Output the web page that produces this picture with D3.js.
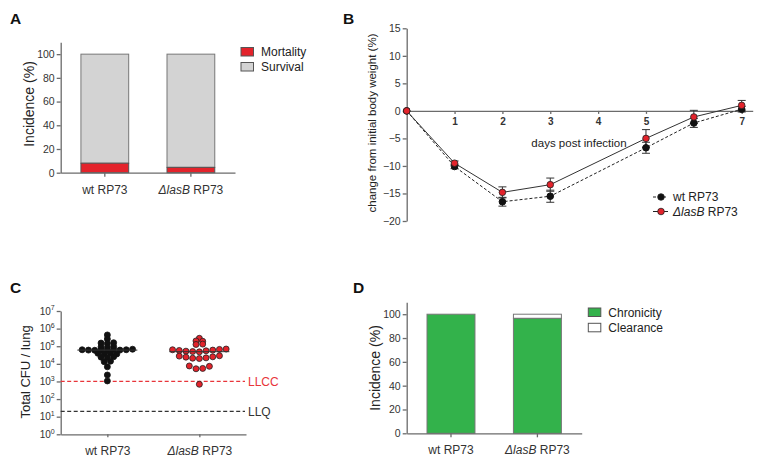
<!DOCTYPE html>
<html><head><meta charset="utf-8">
<script src="https://cdn.jsdelivr.net/npm/d3@7"></script>
<style>body{margin:0;background:#fff} svg{font-family:"Liberation Sans",Arial,sans-serif;display:block}</style>
</head><body><svg id="c" width="767" height="469"></svg>
<script>
// ---------- data ----------
const groups = ["wt RP73", "ΔlasB RP73"];
// Panel A
const mortality = [8, 4.5];
const survival = [92, 95.5];
const incTicks = [0, 20, 40, 60, 80, 100];
// Panel B
const days = [0, 1, 2, 3, 5, 6, 7];
const dayTicks = [1, 2, 3, 4, 5, 7];
const wtWeight = [0, -10.1, -16.5, -15.5, -6.7, -2.2, 0.3];
const wtErr = [0, 0.4, 0.8, 1.1, 1.0, 0.8, 0.5];
const lasWeight = [0, -9.5, -14.8, -13.4, -5.0, -1.1, 1.0];
const lasErr = [0, 0.4, 1.0, 1.2, 1.6, 1.2, 0.9];
const weightTicks = [15, 10, 5, 0, -5, -10, -15, -20];
// Panel C (total CFU / lung, one value per mouse)
const wtCFU = [437000, 257000,
  151000, 141000, 158000,
  91200, 83200, 95500,
  63100, 60300, 58900, 61700, 57500, 64600, 60300, 63100, 67600,
  39800, 38000, 41700, 36300,
  24000, 22900, 25100,
  13200, 14100,
  6760, 2340, 1070];
const lasCFU = [282000,
  200000, 191000,
  126000, 132000,
  63100, 57500, 52500, 50100, 47900, 55000, 60300, 66100, 69200,
  27500, 24000, 20900, 20000, 21900, 25100, 28800,
  7590, 5250, 5500, 7240,
  692];
const LLCC = 1000, LLQ = 20;
const cfuTicks = [1, 10, 100, 1e3, 1e4, 1e5, 1e6, 1e7];
// Panel D
const chronicity = [100, 96.5];
const clearance = [0, 3.5];

// ---------- helpers ----------
const svg = d3.select("#c");
const AX = "#6b6b6b", TXT = "#333";
const RED = "#e3232b", GRAY = "#d3d3d3", GREEN = "#33b24b";

function styleAxis(g, fs) {
  g.selectAll("path,line").attr("stroke", AX).attr("stroke-width", 1.3);
  g.selectAll("text").attr("fill", TXT).attr("font-size", fs || 10.5)
    .attr("font-family", '"Liberation Sans",Arial,sans-serif');
}
function labelWithItalic(sel, d) {
  if (d.startsWith("Δ")) {
    const p = d.split(" ");
    sel.append("tspan").attr("font-style", "italic").text(p[0]);
    sel.append("tspan").text(" " + p.slice(1).join(" "));
  } else sel.text(d);
}
function groupLabels(g) {
  g.selectAll(".tick text").each(function (d) {
    const t = d3.select(this).text("").attr("font-size", 12);
    labelWithItalic(t, d);
  });
}
function letter(t, x, y) {
  svg.append("text").attr("x", x).attr("y", y).attr("font-size", 15.5)
    .attr("font-weight", "bold").attr("fill", "#111").text(t);
}
function ylabel(t, x, y, fs) {
  svg.append("text").attr("transform", `translate(${x},${y}) rotate(-90)`)
    .attr("text-anchor", "middle").attr("font-size", fs).attr("fill", "#222").text(t);
}
function legendItem(x, y, fill, label) {
  svg.append("rect").attr("x", x).attr("y", y).attr("width", 12.5).attr("height", 8.5)
    .attr("fill", fill).attr("stroke", "#555").attr("stroke-width", 1);
  svg.append("text").attr("x", x + 20).attr("y", y + 8.5).attr("font-size", 12)
    .attr("fill", "#222").text(label);
}

// ---------- Panel A ----------
letter("A", 10, 24);
const yA = d3.scaleLinear().domain([0, 110]).range([172.7, 42.3]);
const xA = d3.scaleBand().domain(groups).range([60.7, 235]).paddingInner(0.445).paddingOuter(0.235);
groups.forEach((g, i) => {
  svg.append("rect").attr("x", xA(g)).attr("width", xA.bandwidth())
    .attr("y", yA(mortality[i] + survival[i])).attr("height", yA(mortality[i]) - yA(mortality[i] + survival[i]))
    .attr("fill", GRAY).attr("stroke", "#777").attr("stroke-width", 1);
  svg.append("rect").attr("x", xA(g)).attr("width", xA.bandwidth())
    .attr("y", yA(mortality[i])).attr("height", yA(0) - yA(mortality[i]))
    .attr("fill", RED).attr("stroke", "#555").attr("stroke-width", 1);
});
svg.append("g").attr("transform", "translate(60.7,0)")
  .call(d3.axisLeft(yA).tickValues(incTicks).tickSize(4).tickSizeOuter(0).tickPadding(2))
  .call(styleAxis);
svg.append("g").attr("transform", "translate(0,172.7)")
  .call(d3.axisBottom(xA).tickSize(4).tickSizeOuter(0).tickPadding(9))
  .call(styleAxis).call(groupLabels);
ylabel("Incidence (%)", 34, 104, 14);
legendItem(241, 47.5, RED, "Mortality");
legendItem(241, 62.5, GRAY, "Survival");

// ---------- Panel B ----------
letter("B", 343, 24);
const xB = d3.scaleLinear().domain([0, 7.23]).range([406.7, 752.7]);
const yB = d3.scaleLinear().domain([-20, 15]).range([221, 28.3]);
svg.append("g").attr("transform", "translate(406.7,0)")
  .call(d3.axisLeft(yB).tickValues(weightTicks).tickSize(4).tickSizeOuter(0).tickPadding(2))
  .call(styleAxis);
const gxB = svg.append("g").attr("transform", `translate(0,${yB(0)})`)
  .call(d3.axisBottom(xB).tickValues(dayTicks).tickSize(3).tickSizeOuter(0).tickPadding(4))
  .call(styleAxis);
gxB.selectAll("text").attr("font-weight", "bold").attr("font-size", 10);
svg.append("text").attr("x", 579).attr("y", 147).attr("text-anchor", "middle")
  .attr("font-size", 11.5).attr("fill", "#222").text("days post infection");
ylabel("change from initial body weight (%)", 376, 123, 11.5);

const lineB = d3.line().x((d, i) => xB(days[i])).y(d => yB(d));
svg.append("path").datum(wtWeight).attr("d", lineB).attr("fill", "none")
  .attr("stroke", "#222").attr("stroke-width", 1).attr("stroke-dasharray", "3,2");
svg.append("path").datum(lasWeight).attr("d", lineB).attr("fill", "none")
  .attr("stroke", "#333").attr("stroke-width", 1);
function errBars(vals, errs) {
  vals.forEach((v, i) => {
    if (!errs[i]) return;
    const x = xB(days[i]);
    const g = svg.append("g").attr("stroke", "#333").attr("stroke-width", 1);
    g.append("line").attr("x1", x).attr("x2", x).attr("y1", yB(v - errs[i])).attr("y2", yB(v + errs[i]));
    [v - errs[i], v + errs[i]].forEach(e =>
      g.append("line").attr("x1", x - 4).attr("x2", x + 4).attr("y1", yB(e)).attr("y2", yB(e)));
  });
}
errBars(wtWeight, wtErr);
errBars(lasWeight, lasErr);
svg.selectAll(".wtpt").data(wtWeight).join("circle").attr("class", "wtpt")
  .attr("cx", (d, i) => xB(days[i])).attr("cy", d => yB(d)).attr("r", 3.3)
  .attr("fill", "#111").attr("stroke", "#111");
svg.selectAll(".laspt").data(lasWeight).join("circle").attr("class", "laspt")
  .attr("cx", (d, i) => xB(days[i])).attr("cy", d => yB(d)).attr("r", 3.3)
  .attr("fill", RED).attr("stroke", "#222").attr("stroke-width", 0.8);
[[groups[0], "#111", "3,2", 197], [groups[1], RED, null, 211.5]].forEach(([lab, col, dash, y]) => {
  const l = svg.append("line").attr("x1", 653).attr("x2", 668).attr("y1", y).attr("y2", y)
    .attr("stroke", "#222").attr("stroke-width", 1);
  if (dash) l.attr("stroke-dasharray", dash);
  svg.append("circle").attr("cx", 661).attr("cy", y).attr("r", 3.3).attr("fill", col)
    .attr("stroke", "#222").attr("stroke-width", 0.8);
  const t = svg.append("text").attr("x", 673).attr("y", y + 4.3).attr("font-size", 12).attr("fill", "#222");
  labelWithItalic(t, lab);
});

// ---------- Panel C ----------
letter("C", 10, 292.7);
const yC = d3.scaleLog().domain([1, 1e7]).range([434.3, 311]);
const xC = d3.scalePoint().domain(groups).range([60.7, 246]).padding(0.507);
const gyC = svg.append("g").attr("transform", "translate(60.7,0)")
  .call(d3.axisLeft(yC).tickValues(cfuTicks).tickSize(4).tickSizeOuter(0).tickPadding(2).tickFormat(""))
  .call(styleAxis);
gyC.selectAll(".tick text").each(function (d) {
  const t = d3.select(this).attr("font-size", 10);
  t.text("10");
  t.append("tspan").attr("dy", -4.5).attr("font-size", 7).text(Math.round(Math.log10(d)));
});
svg.append("g").attr("transform", "translate(0,434.3)")
  .call(d3.axisBottom(xC).tickSize(3).tickSizeOuter(0).tickPadding(9))
  .call(styleAxis).call(groupLabels);
ylabel("Total CFU / lung", 30, 372, 13);
[[LLCC, "#e8353a", "LLCC"], [LLQ, "#333", "LLQ"]].forEach(([v, col, lab]) => {
  svg.append("line").attr("x1", 60.7).attr("x2", 245).attr("y1", yC(v)).attr("y2", yC(v))
    .attr("stroke", col).attr("stroke-width", 1.3).attr("stroke-dasharray", "4,2.5");
  svg.append("text").attr("x", 248).attr("y", yC(v) + 4.3).attr("font-size", 12)
    .attr("fill", col).text(lab);
});
// scatter-dot layout: values binned in log space, each bin spread horizontally around the group centre
function rowLayout(values, cx, binW, step) {
  const pts = values.map(v => ({ v, y: yC(v), b: Math.round(Math.log10(v) / binW) }));
  d3.group(pts, d => d.b).forEach(r =>
    r.forEach((p, j) => { p.x = cx + (j - (r.length - 1) / 2) * step; }));
  return pts;
}
[[wtCFU, groups[0], "#111", "#111", 6.3], [lasCFU, groups[1], RED, "#222", 6.7]].forEach(([vals, g, fill, stroke, step]) => {
  const cx = xC(g);
  const pts = rowLayout(vals, cx, 0.19, step);
  svg.append("g").selectAll("circle").data(pts).join("circle")
    .attr("cx", d => d.x).attr("cy", d => d.y).attr("r", 3)
    .attr("fill", fill).attr("stroke", stroke).attr("stroke-width", 0.8);
  const med = d3.median(vals);
  svg.append("line").attr("x1", cx - 30).attr("x2", cx + 30).attr("y1", yC(med)).attr("y2", yC(med))
    .attr("stroke", "#333").attr("stroke-width", 1);
});

// ---------- Panel D ----------
letter("D", 353, 292.7);
const yD = d3.scaleLinear().domain([0, 110]).range([433.3, 302.3]);
const xD = d3.scaleBand().domain(groups).range([406.7, 581.7]).paddingInner(0.445).paddingOuter(0.235);
groups.forEach((g, i) => {
  if (clearance[i] > 0)
    svg.append("rect").attr("x", xD(g)).attr("width", xD.bandwidth())
      .attr("y", yD(chronicity[i] + clearance[i])).attr("height", yD(chronicity[i]) - yD(chronicity[i] + clearance[i]))
      .attr("fill", "#fff").attr("stroke", "#777").attr("stroke-width", 1);
  svg.append("rect").attr("x", xD(g)).attr("width", xD.bandwidth())
    .attr("y", yD(chronicity[i])).attr("height", yD(0) - yD(chronicity[i]))
    .attr("fill", GREEN).attr("stroke", "#777").attr("stroke-width", 1);
});
svg.append("g").attr("transform", "translate(406.7,0)")
  .call(d3.axisLeft(yD).tickValues(incTicks).tickSize(4).tickSizeOuter(0).tickPadding(2))
  .call(styleAxis);
svg.append("g").attr("transform", "translate(0,433.3)")
  .call(d3.axisBottom(xD).tickSize(4).tickSizeOuter(0).tickPadding(8))
  .call(styleAxis).call(groupLabels);
ylabel("Incidence (%)", 380, 368, 14);
legendItem(588.3, 308, GREEN, "Chronicity");
legendItem(588.3, 323.3, "#fff", "Clearance");
</script></body></html>
